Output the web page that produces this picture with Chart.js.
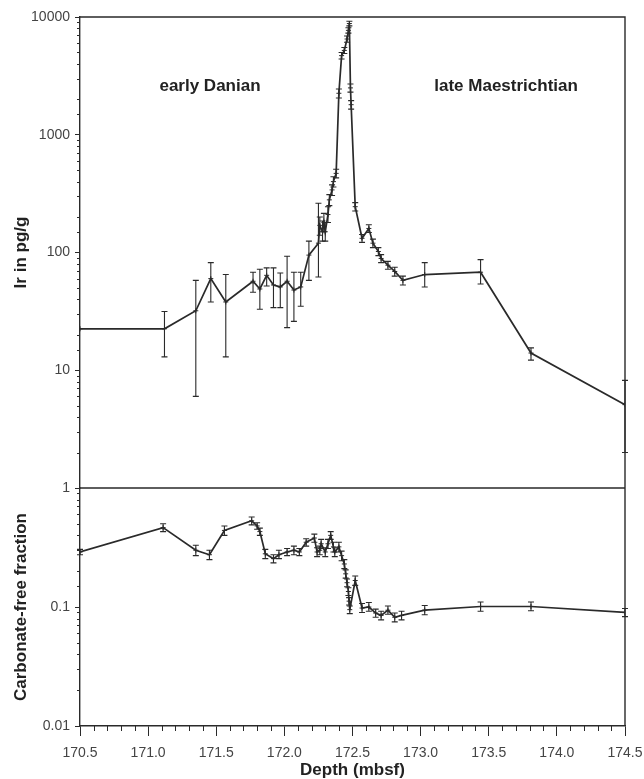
<!DOCTYPE html>
<html>
<head>
<meta charset="utf-8">
<script src="https://cdn.jsdelivr.net/npm/chart.js@4.4.1/dist/chart.umd.min.js"></script>
<style>
  html, body { margin: 0; padding: 0; background: #fff; }
</style>
</head>
<body>
<canvas id="chart" width="644" height="779"></canvas>
<script>
// Ir profile (top panel)
const irDepth = [170.50, 171.12, 171.35, 171.46, 171.57, 171.77, 171.82, 171.87, 171.92, 171.97,
  172.02, 172.07, 172.12, 172.18, 172.25, 172.26, 172.28, 172.29, 172.30, 172.32,
  172.33, 172.35, 172.36, 172.38, 172.40, 172.42, 172.44, 172.46, 172.47, 172.477,
  172.485, 172.49, 172.52, 172.57, 172.62, 172.65, 172.69, 172.71, 172.76, 172.81,
  172.87, 173.03, 173.44, 173.81, 174.50];
const irValue = [22.5, 22.5, 32, 60, 38, 57, 49, 64, 53, 51,
  57, 48, 51, 95, 120, 170, 150, 180, 150, 210,
  280, 340, 400, 470, 2250, 4700, 5200, 6500, 7700, 8800,
  2500, 1800, 245, 132, 160, 120, 102, 89, 78, 69,
  58, 65, 68, 14, 5.1];
const irLow = [null, 13, 6, 38, 13, 46, 33, 52, 34, 34,
  23, 26, 35, 58, 62, 140, 125, 150, 125, 180,
  250, 305, 360, 430, 2050, 4400, 4900, 6100, 7300, 8400,
  2300, 1650, 225, 122, 148, 110, 94, 82, 72, 63,
  53, 51, 54, 12.2, 2.0];
const irHigh = [null, 31.5, 58, 82, 65, 68, 72, 74, 74, 67,
  93, 68, 68, 125, 262, 200, 185, 215, 180, 245,
  310, 375, 440, 510, 2450, 5000, 5500, 6900, 8100, 9200,
  2700, 1950, 265, 142, 172, 130, 110, 96, 84, 75,
  63, 82, 87, 15.5, 8.2];

// carbonate-free fraction (bottom panel)
const cfDepth = [170.50, 171.11, 171.35, 171.45, 171.56, 171.76, 171.80, 171.82, 171.86, 171.92,
  171.96, 172.02, 172.07, 172.11, 172.16, 172.22, 172.24, 172.26, 172.27, 172.30,
  172.32, 172.34, 172.36, 172.37, 172.40, 172.42, 172.44, 172.45, 172.46, 172.47,
  172.475, 172.48, 172.52, 172.57, 172.62, 172.67, 172.71, 172.76, 172.81, 172.86,
  173.03, 173.44, 173.81, 174.50];
const cfValue = [0.29, 0.465, 0.30, 0.275, 0.44, 0.53, 0.48, 0.43, 0.28, 0.255,
  0.275, 0.29, 0.30, 0.29, 0.35, 0.38, 0.29, 0.30, 0.34, 0.29,
  0.34, 0.40, 0.32, 0.29, 0.32, 0.27, 0.23, 0.19, 0.16, 0.135,
  0.112, 0.095, 0.167, 0.098, 0.10, 0.089, 0.085, 0.094, 0.082, 0.085,
  0.094, 0.101, 0.101, 0.090];
const cfLow = [0.275, 0.43, 0.27, 0.25, 0.40, 0.49, 0.45, 0.40, 0.255, 0.235,
  0.255, 0.27, 0.275, 0.27, 0.325, 0.35, 0.265, 0.275, 0.31, 0.265,
  0.31, 0.37, 0.29, 0.265, 0.29, 0.245, 0.21, 0.175, 0.148, 0.125,
  0.104, 0.088, 0.152, 0.09, 0.092, 0.082, 0.078, 0.087, 0.075, 0.078,
  0.086, 0.092, 0.093, 0.083];
const cfHigh = [0.305, 0.50, 0.33, 0.30, 0.48, 0.57, 0.51, 0.46, 0.305, 0.275,
  0.30, 0.31, 0.325, 0.31, 0.375, 0.41, 0.315, 0.325, 0.37, 0.315,
  0.37, 0.43, 0.35, 0.315, 0.35, 0.295, 0.25, 0.205, 0.172, 0.145,
  0.12, 0.102, 0.182, 0.107, 0.109, 0.096, 0.092, 0.102, 0.089, 0.092,
  0.103, 0.11, 0.11, 0.097];

const stageLabels = ['early Danian', 'late Maestrichtian'];

const INK = '#2a2a2a';
const FONT = "'Liberation Sans', Arial, Helvetica, sans-serif";

function isPow10(v) {
  const l = Math.log10(v);
  return Math.abs(l - Math.round(l)) < 1e-6;
}
function isHalf(v) {
  return Math.abs(v * 2 - Math.round(v * 2)) < 1e-6;
}

// error bars drawn from the low/high arrays through each dataset's y scale
const errorBars = {
  id: 'errorBars',
  afterDatasetsDraw(chart) {
    const ctx = chart.ctx;
    chart.data.datasets.forEach((ds, i) => {
      const meta = chart.getDatasetMeta(i);
      const ys = chart.scales[ds.yAxisID];
      ctx.save();
      ctx.strokeStyle = INK;
      ctx.lineWidth = 1.1;
      meta.data.forEach((pt, j) => {
        const lo = ds.errLow[j], hi = ds.errHigh[j];
        if (lo == null || hi == null) return;
        const y0 = ys.getPixelForValue(lo), y1 = ys.getPixelForValue(hi);
        ctx.beginPath();
        ctx.moveTo(pt.x, y0); ctx.lineTo(pt.x, y1);
        ctx.moveTo(pt.x - 3, y0); ctx.lineTo(pt.x + 3, y0);
        ctx.moveTo(pt.x - 3, y1); ctx.lineTo(pt.x + 3, y1);
        ctx.stroke();
      });
      ctx.restore();
    });
  }
};

// box frame, panel separator, minor ticks and stage labels
const frame = {
  id: 'frame',
  afterDraw(chart) {
    const {ctx, chartArea: a, scales} = chart;
    ctx.save();
    ctx.strokeStyle = INK;
    ctx.lineWidth = 1.4;
    ctx.beginPath();
    ctx.moveTo(a.left, a.top); ctx.lineTo(a.right, a.top); ctx.lineTo(a.right, a.bottom);
    ctx.moveTo(a.left, scales.y.bottom); ctx.lineTo(a.right, scales.y.bottom);
    ctx.stroke();

    ctx.lineWidth = 1;
    ctx.beginPath();
    ['y', 'y2'].forEach(id => {
      const s = scales[id];
      s.ticks.forEach(t => {
        if (isPow10(t.value)) return;
        const py = Math.round(s.getPixelForValue(t.value)) + 0.5;
        ctx.moveTo(s.right - 3, py); ctx.lineTo(s.right, py);
      });
    });
    const sx = scales.x;
    sx.ticks.forEach(t => {
      if (isHalf(t.value)) return;
      const px = Math.round(sx.getPixelForValue(t.value)) + 0.5;
      ctx.moveTo(px, sx.top); ctx.lineTo(px, sx.top + 5);
    });
    ctx.stroke();

    ctx.fillStyle = '#222';
    ctx.font = 'bold 17px ' + FONT;
    ctx.textAlign = 'center';
    ctx.textBaseline = 'middle';
    ctx.fillText(stageLabels[0], sx.getPixelForValue(171.454), scales.y.getPixelForValue(2600));
    ctx.fillText(stageLabels[1], sx.getPixelForValue(173.627), scales.y.getPixelForValue(2600));
    ctx.restore();
  }
};

const tickFont = {family: FONT, size: 14};
const titleFont = {family: FONT, size: 17, weight: 'bold', lineHeight: 1};

function logLabel(v) {
  return isPow10(v) ? String(Number(v.toPrecision(6))) : '';
}

new Chart(document.getElementById('chart'), {
  type: 'line',
  data: {
    datasets: [
      {
        label: 'Ir',
        yAxisID: 'y',
        data: irDepth.map((d, i) => ({x: d, y: irValue[i]})),
        errLow: irLow,
        errHigh: irHigh,
        borderColor: INK,
        borderWidth: 1.7,
        pointStyle: 'cross',
        pointRadius: 2.5,
        pointBorderColor: INK,
        pointBorderWidth: 1,
        tension: 0
      },
      {
        label: 'Carbonate-free fraction',
        yAxisID: 'y2',
        data: cfDepth.map((d, i) => ({x: d, y: cfValue[i]})),
        errLow: cfLow,
        errHigh: cfHigh,
        borderColor: INK,
        borderWidth: 1.7,
        pointStyle: 'cross',
        pointRadius: 2.5,
        pointBorderColor: INK,
        pointBorderWidth: 1,
        tension: 0
      }
    ]
  },
  options: {
    responsive: false,
    animation: false,
    layout: {padding: {top: 17, right: 19, left: 0, bottom: 0}},
    plugins: {legend: {display: false}, tooltip: {enabled: false}},
    scales: {
      x: {
        type: 'linear',
        position: 'bottom',
        min: 170.5,
        max: 174.5,
        afterFit: s => { s.height = 53; s.paddingLeft = 0; s.paddingRight = 0; },
        ticks: {
          stepSize: 0.1,
          autoSkip: false,
          maxRotation: 0,
          padding: 9,
          color: '#444',
          font: tickFont,
          callback: v => isHalf(v) ? v.toFixed(1) : ''
        },
        grid: {
          drawOnChartArea: false,
          tickLength: 10,
          tickWidth: 1,
          tickColor: c => (c.tick && isHalf(c.tick.value)) ? INK : 'rgba(0,0,0,0)'
        },
        border: {color: INK, width: 1.4},
        title: {display: true, text: 'Depth (mbsf)', color: '#222', font: titleFont, padding: {top: 0, bottom: 0}}
      },
      y: {
        type: 'logarithmic',
        position: 'left',
        stack: 'depth',
        stackWeight: 471,
        weight: 1,
        min: 1,
        max: 10000,
        afterFit: s => { s.width = 80; },
        ticks: {autoSkip: false, padding: 5, color: '#444', font: tickFont, callback: logLabel},
        grid: {
          drawOnChartArea: false,
          tickLength: 5,
          tickColor: c => (c.tick && isPow10(c.tick.value)) ? INK : 'rgba(0,0,0,0)'
        },
        border: {color: INK, width: 1.4},
        title: {display: true, text: 'Ir in pg/g', color: '#222', font: titleFont, padding: {top: 13, bottom: 0}}
      },
      y2: {
        type: 'logarithmic',
        position: 'left',
        stack: 'depth',
        stackWeight: 238,
        weight: 0,
        min: 0.01,
        max: 1,
        afterFit: s => { s.width = 80; },
        ticks: {autoSkip: false, padding: 5, color: '#444', font: tickFont, callback: v => v >= 0.999 ? '' : logLabel(v)},
        grid: {
          drawOnChartArea: false,
          tickLength: 5,
          tickColor: c => (c.tick && isPow10(c.tick.value)) ? INK : 'rgba(0,0,0,0)'
        },
        border: {color: INK, width: 1.4},
        title: {display: true, text: 'Carbonate-free fraction', color: '#222', font: titleFont, padding: {top: 13, bottom: 0}}
      }
    }
  },
  plugins: [errorBars, frame]
});
</script>
</body>
</html>
